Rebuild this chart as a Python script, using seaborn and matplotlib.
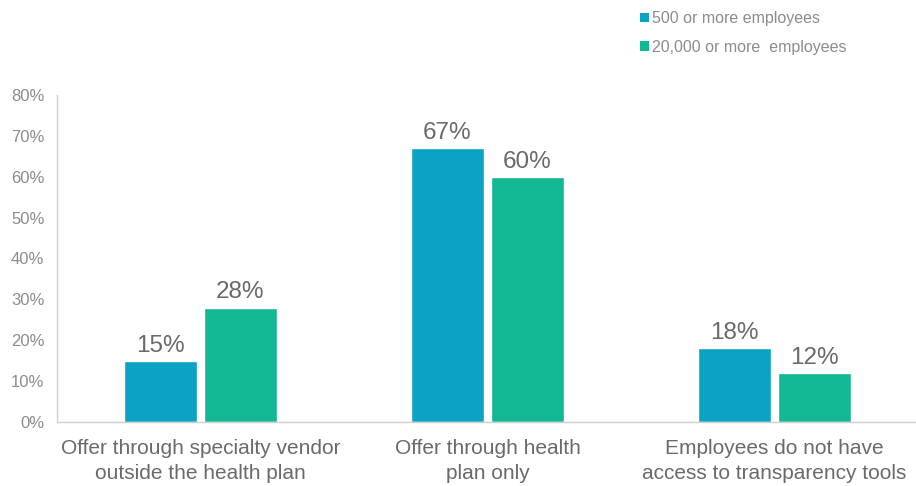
import matplotlib
matplotlib.use("Agg")
import matplotlib.pyplot as plt
import seaborn as sns
import pandas as pd
from matplotlib.patches import Patch

categories = ["Offer through specialty vendor\noutside the health plan",
              "Offer through health\nplan only",
              "Employees do not have\naccess to transparency tools"]
series = ["500 or more employees", "20,000 or more  employees"]
values_500 = [15, 67, 18]
values_20k = [28, 60, 12]
yticks = [0, 10, 20, 30, 40, 50, 60, 70, 80]
colors = ["#0aa3c4", "#12b794"]

df = pd.DataFrame({
    "category": categories * 2,
    "series": [series[0]] * 3 + [series[1]] * 3,
    "value": values_500 + values_20k,
})

sns.set_style("white")
plt.rcParams["font.family"] = ["Arial", "Liberation Sans", "DejaVu Sans"]

fig = plt.figure(figsize=(9.16, 4.86), dpi=100)
ax = fig.add_axes([0.0622, 0.1317, 0.94, 0.673])

sns.barplot(data=df, x="category", y="value", hue="series", order=categories,
            hue_order=series, palette=colors, width=0.557, gap=0.09,
            ax=ax, legend=False, saturation=1)

for cont in ax.containers:
    ax.bar_label(cont, labels=[f"{int(v)}%" for v in cont.datavalues],
                 padding=3, fontsize=17.5, color="#6a6a6a")

ax.set_xlim(-0.5, 2.5)
ax.set_ylim(0, 80)
ax.set_yticks(yticks)
ax.set_yticklabels([f"{t}%" for t in yticks], fontsize=12, color="#8c8c8c")
ax.tick_params(axis="x", labelsize=15, labelcolor="#6a6a6a", length=0, pad=12)
ax.tick_params(axis="y", length=0, pad=9)
for lbl in ax.get_xticklabels():
    lbl.set_linespacing(1.4)
ax.set_xlabel("")
ax.set_ylabel("")
for s in ["top", "right"]:
    ax.spines[s].set_visible(False)
for s in ["left", "bottom"]:
    ax.spines[s].set_color("#d0d0d0")
    ax.spines[s].set_linewidth(1)

handles = [Patch(facecolor=c, edgecolor="none") for c in colors]
fig.legend(handles, series, loc="upper left", bbox_to_anchor=(0.683, 1.007),
           frameon=False, fontsize=11.5, labelcolor="#8c8c8c",
           handlelength=0.55, handleheight=0.55, handletextpad=0.2,
           labelspacing=0.85)

fig.savefig("out.png", dpi=100)
